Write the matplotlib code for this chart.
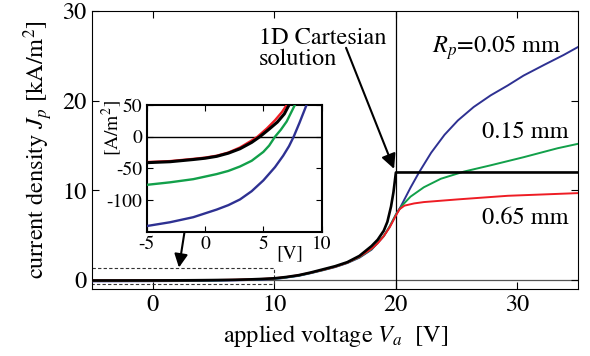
import matplotlib
matplotlib.use("Agg")
import matplotlib.pyplot as plt
import numpy as np

plt.rcParams['font.family'] = ['STIXGeneral', 'Liberation Serif', 'DejaVu Serif']
plt.rcParams['mathtext.fontset'] = 'stix'
plt.rcParams['axes.unicode_minus'] = False

# current density in kA/m^2 vs applied voltage in V
v_black = [-5, -3, -1, 0, 1, 2, 3, 4, 4.7, 5.5, 6.2, 6.8, 7.2, 8, 9, 10, 11, 12, 13, 14, 15,
           16, 17, 18, 18.5, 19, 19.3, 19.6, 19.8, 20, 35]
j_black = [-0.041, -0.0395, -0.036, -0.034, -0.031, -0.026, -0.019, -0.009, 0.0, 0.012,
           0.023, 0.036, 0.05, 0.08, 0.13, 0.2, 0.35, 0.55, 0.85, 1.2, 1.55, 2.0, 2.7, 3.8,
           4.5, 5.5, 6.5, 8.2, 9.8, 12, 12]

v_red = [-5, -3, -1, 0, 1, 2, 3, 4, 4.5, 5.3, 6.0, 6.6, 7.0, 8, 9, 10, 11, 12, 13, 14, 15, 16,
         17, 18, 18.5, 19, 19.5, 20, 20.3, 20.7, 21.5, 22.3, 25.1, 29.2, 35]
j_red = [-0.040, -0.0385, -0.035, -0.033, -0.030, -0.025, -0.017, -0.006, 0.0, 0.013,
         0.026, 0.039, 0.05, 0.085, 0.135, 0.2, 0.35, 0.55, 0.83, 1.15, 1.5, 1.95, 2.6, 3.5,
         4.1, 4.9, 5.9, 7.2, 7.9, 8.3, 8.55, 8.7, 9.0, 9.4, 9.7]

v_green = [-5, -3, -1, 0, 1, 2, 3, 4, 5, 5.5, 6.0, 6.5, 7.0, 7.7, 8.5, 9.5, 10.5, 12, 13, 14,
           15, 16, 17, 18, 19, 19.5, 20, 20.5, 21.2, 22.3, 23.7, 25.6, 27.8, 30.5, 33.3, 35]
j_green = [-0.076, -0.072, -0.067, -0.063, -0.059, -0.054, -0.047, -0.038, -0.024, -0.014,
           0.0, 0.011, 0.024, 0.05, 0.085, 0.14, 0.22, 0.5, 0.8, 1.12, 1.48, 1.93, 2.55,
           3.45, 4.9, 6.0, 7.3, 8.3, 9.3, 10.35, 11.3, 12.1, 12.8, 13.7, 14.7, 15.2]

v_blue = [-5, -4, -3, -2, -1, 0, 1, 2, 3, 4, 5, 6, 6.7, 7.2, 7.6, 8.1, 8.7, 9.5, 10.5, 12, 13,
          14, 15, 16, 17, 18, 19, 19.5, 20, 20.4, 21.2, 21.9, 22.9, 24.0, 25.1, 26.4, 27.8,
          29.2, 30.5, 32.2, 33.8, 35]
j_blue = [-0.141, -0.138, -0.135, -0.131, -0.127, -0.121, -0.115, -0.108, -0.099, -0.086,
          -0.069, -0.048, -0.030, -0.015, 0.0, 0.022, 0.05, 0.1, 0.19, 0.47, 0.77, 1.1, 1.45,
          1.9, 2.5, 3.4, 4.9, 6.0, 7.3, 8.2, 10.3, 12.0, 14.2, 16.2, 17.8, 19.3, 20.6, 21.7,
          22.8, 24.0, 25.1, 26.0]

c_blue = "#2e3192"
c_green = "#12a04a"
c_red = "#ee1c24"

curves = [(v_blue, j_blue, c_blue, 1.4),
          (v_green, j_green, c_green, 1.4),
          (v_red, j_red, c_red, 1.4),
          (v_black, j_black, "k", 1.9)]

fs = 17.5

fig = plt.figure(figsize=(5.9, 3.56), dpi=100)
ax = fig.add_axes([0.156, 0.188, 0.824, 0.781])

ax.axhline(0, color="#555555", lw=0.9, zorder=1)
ax.axvline(20, color="k", lw=0.9, zorder=1)
for v, j, c, lw in curves:
    ax.plot(v, j, color=c, lw=lw, zorder=3)

# dashed box marking the zoomed region
ax.plot([-5, 10, 10, -5], [1.3, 1.3, -0.48, -0.48], ls=(0, (3, 2)), color="#333333",
        lw=0.8, zorder=2)

ax.set_xlim(-5, 35)
ax.set_ylim(-1, 30)
ax.set_xticks([0, 10, 20, 30])
ax.set_yticks([0, 10, 20, 30])
ax.tick_params(direction="in", top=True, right=True, labelsize=fs, length=5, pad=4)
ax.set_xlabel("applied voltage $V_a$  [V]", fontsize=fs, labelpad=5)
ax.set_ylabel("current density $J_p$ [kA/m$^2$]", fontsize=fs, labelpad=5)

ax.text(8.7, 25.8, "1D Cartesian\nsolution", fontsize=fs, ha="left", va="center",
        linespacing=0.95)
ax.annotate("", xy=(19.85, 12.4), xytext=(15.9, 25.9),
            arrowprops=dict(arrowstyle="-|>", color="k", lw=1.5, mutation_scale=22,
                            shrinkA=0, shrinkB=0))
ax.text(33.6, 25.9, "$R_p$=0.05 mm", fontsize=fs, ha="right", va="center")
ax.text(34.2, 16.5, "0.15 mm", fontsize=fs, ha="right", va="center")
ax.text(34.2, 6.9, "0.65 mm", fontsize=fs, ha="right", va="center")

ax.annotate("", xy=(2.15, 1.4), xytext=(2.6, 5.3),
            arrowprops=dict(arrowstyle="-|>", color="k", lw=1.5, mutation_scale=20,
                            shrinkA=0, shrinkB=0))

# inset in A/m^2
axin = fig.add_axes([0.2486, 0.349, 0.2966, 0.356])
axin.axhline(0, color="k", lw=1.0, zorder=1)
for v, j, c, lw in curves:
    axin.plot(v, np.array(j) * 1000, color=c, lw=lw + 0.3, zorder=3)
axin.set_xlim(-5, 10)
axin.set_ylim(-150, 50)
axin.set_xticks([-5, 0, 5, 10])
axin.set_yticks([-100, -50, 0, 50])
axin.tick_params(direction="in", top=True, right=True, labelsize=14, length=4, pad=3)
for s in axin.spines.values():
    s.set_linewidth(1.5)
axin.text(0.82, -0.17, "[V]", transform=axin.transAxes, fontsize=14,
          ha="center", va="center")
axin.text(-0.2, 0.82, "[A/m$^2$]", transform=axin.transAxes, fontsize=14,
          ha="center", va="center", rotation=90)

fig.savefig("out.png", dpi=100)
